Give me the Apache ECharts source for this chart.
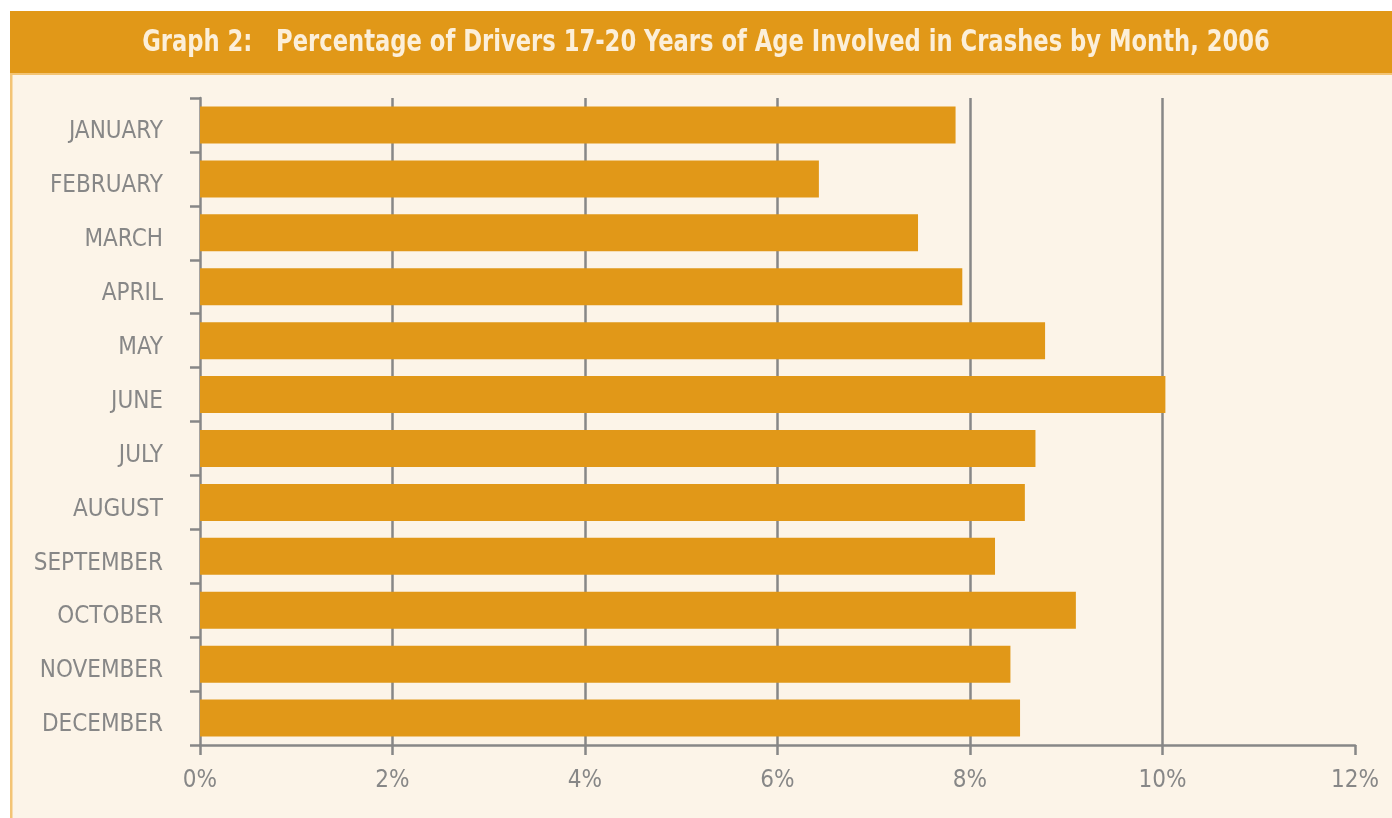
<!DOCTYPE html>
<html>
<head>
<meta charset="utf-8">
<script src="https://cdn.jsdelivr.net/npm/echarts@6/dist/echarts.min.js"></script>
<style>
html,body{margin:0;padding:0;background:#ffffff;}
#chart{width:1392px;height:818px;}
</style>
</head>
<body>
<div id="chart"></div>
<script>
const titleText = 'Graph 2:   Percentage of Drivers 17-20 Years of Age Involved in Crashes by Month, 2006';
const months = ['JANUARY','FEBRUARY','MARCH','APRIL','MAY','JUNE','JULY','AUGUST','SEPTEMBER','OCTOBER','NOVEMBER','DECEMBER'];
const percentages = [7.85, 6.43, 7.46, 7.92, 8.78, 10.03, 8.68, 8.57, 8.26, 9.10, 8.42, 8.52];
const xTicks = [0, 2, 4, 6, 8, 10, 12];

const chart = echarts.init(document.getElementById('chart'), null, {renderer: 'canvas'});
const gray = '#878787';
const fontFam = '"Liberation Sans Narrow", "DejaVu Sans Condensed", "Liberation Sans", sans-serif';

chart.setOption({
  backgroundColor: '#ffffff',
  animation: false,
  graphic: [
    {type: 'rect', z: -10, shape: {x: 10, y: 73, width: 1382, height: 745}, style: {fill: '#fcf4e8'}},
    {type: 'rect', z: -9, shape: {x: 10, y: 73, width: 2.5, height: 745}, style: {fill: '#f3c475'}},
    {type: 'rect', z: -9, shape: {x: 10, y: 72, width: 1382, height: 3}, style: {fill: '#f3c475'}},
    {type: 'rect', z: -8, shape: {x: 10, y: 11, width: 1382, height: 62}, style: {fill: '#e19818'}},
    {
      type: 'text', z: 10,
      x: 706, y: 43,
      scaleX: 0.84, scaleY: 1,
      style: {
        text: titleText,
        x: 0, y: 0,
        align: 'center',
        verticalAlign: 'middle',
        fill: '#fcefd9',
        font: 'bold 30px ' + fontFam
      }
    }
  ],
  grid: {left: 200, right: 37, top: 98, bottom: 73, containLabel: false},
  xAxis: {
    type: 'value',
    min: 0,
    max: 12,
    interval: 2,
    axisLine: {show: true, lineStyle: {color: gray, width: 2.5}},
    axisTick: {show: true, length: 10, lineStyle: {color: gray, width: 2.5}},
    splitLine: {show: true, showMinLine: false, showMaxLine: false, lineStyle: {color: gray, width: 2.5}},
    axisLabel: {
      margin: 24,
      color: gray,
      fontFamily: fontFam,
      fontSize: 24,
      formatter: function (v) { return xTicks.indexOf(v) >= 0 ? v + '%' : ''; }
    }
  },
  yAxis: {
    type: 'category',
    data: months,
    inverse: true,
    axisLine: {show: true, lineStyle: {color: gray, width: 2.5}},
    axisTick: {show: true, length: 10, lineStyle: {color: gray, width: 2.5}},
    axisLabel: {
      margin: 37,
      color: gray,
      fontFamily: fontFam,
      fontSize: 24,
      formatter: function (v) { return '{m|' + v + '}'; },
      rich: {
        m: {
          color: gray,
          fontFamily: fontFam,
          fontSize: 24,
          padding: [14, 0, 0, 0]
        }
      }
    }
  },
  series: [{
    type: 'bar',
    data: percentages,
    barWidth: 37,
    itemStyle: {color: '#e19818'},
    z: 3
  }]
});
</script>
</body>
</html>
